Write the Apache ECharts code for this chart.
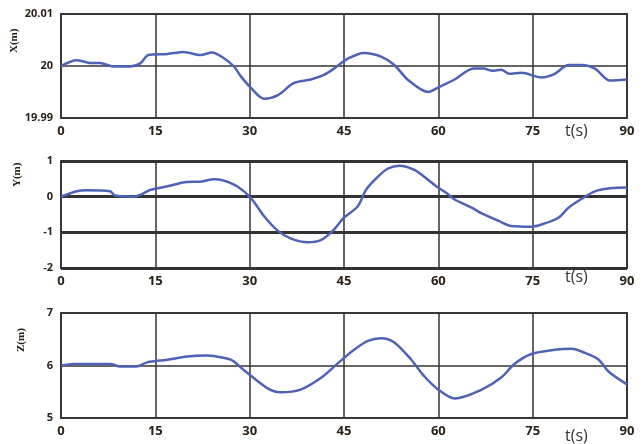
<!DOCTYPE html>
<html>
<head>
<meta charset="utf-8">
<script src="https://cdn.jsdelivr.net/npm/echarts@6/dist/echarts.min.js"></script>
<style>
  html, body { margin: 0; padding: 0; background: #fff; }
  #chart { width: 644px; height: 444px; }
</style>
</head>
<body>
<div id="chart"></div>
<script>
// time ticks (s)
var tTicks = [0, 15, 30, 45, 60, 75, 90];

// X(m)
var xTime = [0, 2.5, 4.6, 6.2, 8.3, 11, 12.6, 13.9, 16.9, 19.5, 22.2, 24, 25.9, 27.5, 28.6, 30.2, 32.3, 34.5, 37, 39.7, 41.8, 43.4, 45.6, 48.2, 50.9, 53, 55.2, 58.4, 60.2, 62.6, 65.6, 67.2, 68.5, 70, 71.3, 73.2, 76.4, 78.5, 80.7, 82.8, 84.9, 87.3, 90];
var xVal = [20.0000, 20.0011, 20.0006, 20.0006, 19.9999, 19.9999, 20.0005, 20.0021, 20.0023, 20.0027, 20.0021, 20.0026, 20.0015, 19.9999, 19.9980, 19.9958, 19.9937, 19.9944, 19.9967, 19.9974, 19.9983, 19.9995, 20.0014, 20.0025, 20.0018, 20.0002, 19.9973, 19.9950, 19.9960, 19.9974, 19.9995, 19.9995, 19.9991, 19.9993, 19.9985, 19.9987, 19.9978, 19.9985, 20.0002, 20.0002, 19.9995, 19.9972, 19.9974];

// Y(m)
var yTime = [0, 2.5, 4.1, 7.8, 8.6, 11.5, 12.6, 14.2, 16.9, 20, 22.2, 24.3, 25.9, 28, 30.2, 32.3, 34.5, 36.5, 39.2, 41.3, 43.2, 45, 47.2, 48.5, 50.4, 52, 53.8, 56.2, 58.4, 59.4, 61.3, 62.6, 65.3, 66.9, 69.6, 71.6, 74.8, 76.4, 79.1, 80.7, 82.8, 84.9, 87.6, 90];
var yVal = [0, 0.15, 0.18, 0.15, 0.03, 0, 0.05, 0.19, 0.29, 0.41, 0.42, 0.49, 0.45, 0.29, -0.04, -0.55, -0.96, -1.17, -1.28, -1.22, -0.96, -0.59, -0.27, 0.19, 0.56, 0.79, 0.87, 0.75, 0.47, 0.33, 0.1, -0.08, -0.31, -0.47, -0.68, -0.82, -0.84, -0.78, -0.59, -0.31, -0.06, 0.15, 0.24, 0.26];

// Z(m)
var zTime = [0, 2, 7.8, 9.4, 12, 13.7, 16.9, 20, 23.2, 24.3, 27, 29, 32.8, 34.9, 38.1, 41.3, 44, 46.6, 48.8, 50.9, 53, 55.7, 57.8, 60, 62.6, 66.9, 70, 72.1, 74.8, 78.5, 81.2, 83.3, 85.5, 87.1, 90];
var zVal = [6.0, 6.03, 6.03, 5.98, 5.98, 6.06, 6.11, 6.17, 6.19, 6.18, 6.11, 5.92, 5.57, 5.49, 5.54, 5.76, 6.04, 6.30, 6.47, 6.52, 6.44, 6.11, 5.79, 5.54, 5.37, 5.54, 5.77, 6.03, 6.22, 6.30, 6.32, 6.24, 6.11, 5.88, 5.64];

function pairs(t, v) {
  return t.map(function (x, i) { return [x, v[i]]; });
}

var chart = echarts.init(document.getElementById('chart'));

var lineColor = '#4e63b6';
var labelFont = { color: '#2a2218', fontSize: 13, fontWeight: 'bold', fontFamily: 'Open Sans' };

function xAx(idx) {
  return {
    type: 'value', gridIndex: idx, min: 0, max: 90, interval: 15,
    axisLine: { show: false },
    axisTick: { show: false },
    axisLabel: Object.assign({ margin: 7 }, labelFont),
    splitLine: { show: true, lineStyle: { color: '#333', width: 1.5 } }
  };
}

function yAx(idx, min, max, interval, splitW, fmt) {
  return {
    type: 'value', gridIndex: idx, min: min, max: max, interval: interval,
    axisLine: { show: false },
    axisTick: { show: false },
    axisLabel: Object.assign({ margin: 8, formatter: fmt }, labelFont, { fontSize: 11 }),
    splitLine: { show: true, lineStyle: { color: '#333', width: splitW } }
  };
}

var gridBase = { left: 61, right: 17, show: true, borderColor: '#444', borderWidth: 2, backgroundColor: '#fff' };

var nameStyle = { fill: '#2a2218', font: 'bold 11px "Liberation Serif"' };
var tStyle = { fill: '#333', font: '16px "Open Sans"' };

chart.setOption({
  animation: false,
  grid: [
    Object.assign({ top: 14, height: 104 }, gridBase),
    Object.assign({ top: 161, height: 107 }, gridBase),
    Object.assign({ top: 313, height: 105 }, gridBase)
  ],
  xAxis: [xAx(0), xAx(1), xAx(2)],
  yAxis: [
    yAx(0, 19.99, 20.01, 0.01, 1.5, function (v) {
      return Math.round(v * 100) / 100 + '';
    }),
    yAx(1, -2, 1, 1, 3),
    yAx(2, 5, 7, 1, 1.5)
  ],
  series: [
    {
      type: 'line', xAxisIndex: 0, yAxisIndex: 0, data: pairs(xTime, xVal),
      showSymbol: false, smooth: 0.3, lineStyle: { color: lineColor, width: 2.5 }
    },
    {
      type: 'line', xAxisIndex: 1, yAxisIndex: 1, data: pairs(yTime, yVal),
      showSymbol: false, smooth: 0.3, lineStyle: { color: lineColor, width: 2.5 }
    },
    {
      type: 'line', xAxisIndex: 2, yAxisIndex: 2, data: pairs(zTime, zVal),
      showSymbol: false, smooth: 0.3, lineStyle: { color: lineColor, width: 2.5 }
    }
  ],
  graphic: [
    { type: 'text', x: 9, y: 53, rotation: Math.PI / 2, style: Object.assign({ text: 'X(m)' }, nameStyle) },
    { type: 'text', x: 12, y: 187, rotation: Math.PI / 2, style: Object.assign({ text: 'Y(m)' }, nameStyle) },
    { type: 'text', x: 16, y: 352, rotation: Math.PI / 2, style: Object.assign({ text: 'Z(m)' }, nameStyle) },
    { type: 'text', x: 565, y: 123, style: Object.assign({ text: 't(s)' }, tStyle) },
    { type: 'text', x: 565, y: 269, style: Object.assign({ text: 't(s)' }, tStyle) },
    { type: 'text', x: 565, y: 428, style: Object.assign({ text: 't(s)' }, tStyle) }
  ]
});
</script>
</body>
</html>
